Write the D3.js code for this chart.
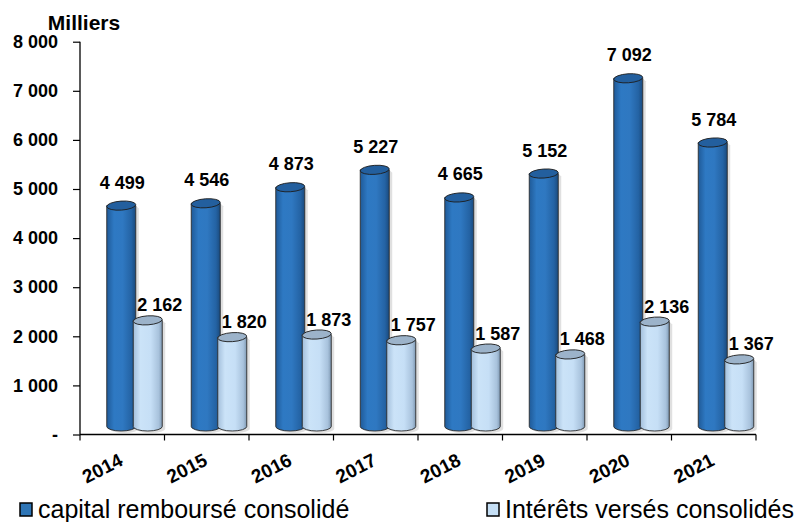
<!DOCTYPE html>
<html>
<head>
<meta charset="utf-8">
<script src="https://cdn.jsdelivr.net/npm/d3@7"></script>
<style>
  html, body { margin: 0; padding: 0; background: #fff; }
  svg { display: block; font-family: "Liberation Sans", Arial, sans-serif; }
</style>
</head>
<body>
<svg id="chart" width="797" height="522"></svg>
<script>
// Annual figures, in thousands
const years = ["2014", "2015", "2016", "2017", "2018", "2019", "2020", "2021"];
const capital = [4499, 4546, 4873, 5227, 4665, 5152, 7092, 5784];
const interets = [2162, 1820, 1873, 1757, 1587, 1468, 2136, 1367];
const yTicks = [0, 1000, 2000, 3000, 4000, 5000, 6000, 7000, 8000];
const seriesNames = ["capital remboursé consolidé", "Intérêts versés consolidés"];
const unitLabel = "Milliers";

const svg = d3.select("#chart");
const plotLeft = 80, plotRight = 756, plotTop = 41.7, plotBottom = 434.5;

const x = d3.scaleBand().domain(years).range([plotLeft, plotRight]);
const y = d3.scaleLinear().domain([0, 8000]).range([plotBottom, plotTop]);

const fmt = v => v === 0 ? "-" : d3.format(",")(v).replace(/,/g, " ");

// gradients for the cylinders
const defs = svg.append("defs");
function grad(id, stops) {
  const g = defs.append("linearGradient").attr("id", id)
    .attr("x1", "0%").attr("x2", "100%").attr("y1", "0%").attr("y2", "0%");
  stops.forEach(([o, c]) => g.append("stop").attr("offset", o).attr("stop-color", c));
}
grad("gDark", [["0%", "#1f5a98"], ["25%", "#2e79c3"], ["55%", "#2f78c1"], ["85%", "#2463a4"], ["100%", "#1a4a7d"]]);
grad("gLight", [["0%", "#a3bfdb"], ["25%", "#cbe3f8"], ["60%", "#c6dff6"], ["88%", "#a8c2dc"], ["100%", "#7f99b3"]]);

// axes
const yAxis = d3.axisLeft(y).tickValues(yTicks).tickFormat(fmt).tickSize(7).tickPadding(15);
const gy = svg.append("g").attr("transform", `translate(${plotLeft},0)`).call(yAxis);
gy.select(".domain").attr("stroke", "#000").attr("stroke-width", 1.3).attr("d", `M0,${plotTop}V${plotBottom}`);
gy.selectAll(".tick line").attr("stroke", "#000").attr("stroke-width", 1.2);
gy.selectAll(".tick text").attr("font-size", 18).attr("font-weight", "bold").attr("fill", "#000")
  .attr("font-family", "'Liberation Sans', Arial, sans-serif");

const xAxis = d3.axisBottom(x).tickSize(0).tickFormat("");
const gx = svg.append("g").attr("transform", `translate(0,${plotBottom})`).call(xAxis);
gx.select(".domain").attr("stroke", "#000").attr("stroke-width", 1.3).attr("d", `M${plotLeft},0H${plotRight}`);
// category boundary ticks
const bounds = years.map(d => x(d)).concat([plotRight]);
gx.selectAll("line.bnd").data(bounds).enter().append("line").attr("class", "bnd")
  .attr("x1", d => d).attr("x2", d => d).attr("y1", 0).attr("y2", 6)
  .attr("stroke", "#000").attr("stroke-width", 1.2);

// rotated year labels
svg.append("g").selectAll("text").data(years).enter().append("text")
  .attr("transform", d => `translate(${x(d) + x.bandwidth() / 2 + 2},${plotBottom + 30}) rotate(-27)`)
  .attr("text-anchor", "end").attr("font-size", 19).attr("font-weight", "bold").attr("fill", "#000")
  .text(d => d);

// unit label
svg.append("text").attr("x", 84).attr("y", 30).attr("text-anchor", "middle")
  .attr("font-size", 21).attr("font-weight", "bold").attr("fill", "#000").text(unitLabel);

// cylinders
const bw = 29, rx = bw / 2, ry = 4.5, depth = 8;
function cylinders(values, dx, fillId, topFill, cls) {
  const g = svg.append("g").attr("class", cls);
  const items = years.map((yr, i) => ({ yr, v: values[i], cx: x(yr) + x.bandwidth() / 2 + dx }));
  const grp = g.selectAll("g").data(items).enter().append("g");
  // soft shadow on the right side
  grp.append("path")
    .attr("d", d => {
      const yt = y(d.v) - depth, yb = y(0) - depth;
      return `M${d.cx + rx},${yt} L${d.cx + rx + 3},${yt + 3} L${d.cx + rx + 3},${yb + 2} A${rx},${ry} 0 0 1 ${d.cx - rx + 3},${yb + 2} Z`;
    })
    .attr("fill", "rgba(0,0,0,0.12)");
  grp.append("path")
    .attr("d", d => {
      const yt = y(d.v) - depth, yb = y(0) - depth;
      return `M${d.cx - rx},${yt} L${d.cx - rx},${yb} A${rx},${ry} 0 0 0 ${d.cx + rx},${yb} L${d.cx + rx},${yt} Z`;
    })
    .attr("fill", `url(#${fillId})`).attr("stroke", "#2b2b2b").attr("stroke-width", 0.9);
  grp.append("ellipse")
    .attr("cx", d => d.cx).attr("cy", d => y(d.v) - depth)
    .attr("rx", rx).attr("ry", ry)
    .attr("transform", d => `rotate(-4 ${d.cx} ${y(d.v) - depth})`)
    .attr("fill", topFill).attr("stroke", "#1e1e1e").attr("stroke-width", 0.9);
  return items;
}
const darkItems = cylinders(capital, -1, "gDark", "#235f9e", "capital");
const lightItems = cylinders(interets, 25.5, "gLight", "#9cb3ca", "interets");

// value labels
svg.append("g").selectAll("text").data(darkItems).enter().append("text")
  .attr("x", d => d.cx + 1).attr("y", d => y(d.v) - 25)
  .attr("text-anchor", "middle").attr("font-size", 18).attr("font-weight", "bold").attr("fill", "#000")
  .text(d => fmt(d.v));
svg.append("g").selectAll("text").data(lightItems).enter().append("text")
  .attr("x", d => d.cx + 12).attr("y", d => y(d.v) - 17)
  .attr("text-anchor", "middle").attr("font-size", 18).attr("font-weight", "bold").attr("fill", "#000")
  .text(d => fmt(d.v));

// legend
const legend = [
  { name: seriesNames[0], color: "#2e75b6", x: 20 },
  { name: seriesNames[1], color: "#c5dff5", x: 487 }
];
const lg = svg.append("g").selectAll("g").data(legend).enter().append("g");
lg.append("rect").attr("x", d => d.x).attr("y", 503).attr("width", 12).attr("height", 13)
  .attr("fill", d => d.color).attr("stroke", "#000").attr("stroke-width", 1.5);
lg.append("text").attr("x", d => d.x + 18).attr("y", 518)
  .attr("font-size", 25).attr("fill", "#000").text(d => d.name);
</script>
</body>
</html>
